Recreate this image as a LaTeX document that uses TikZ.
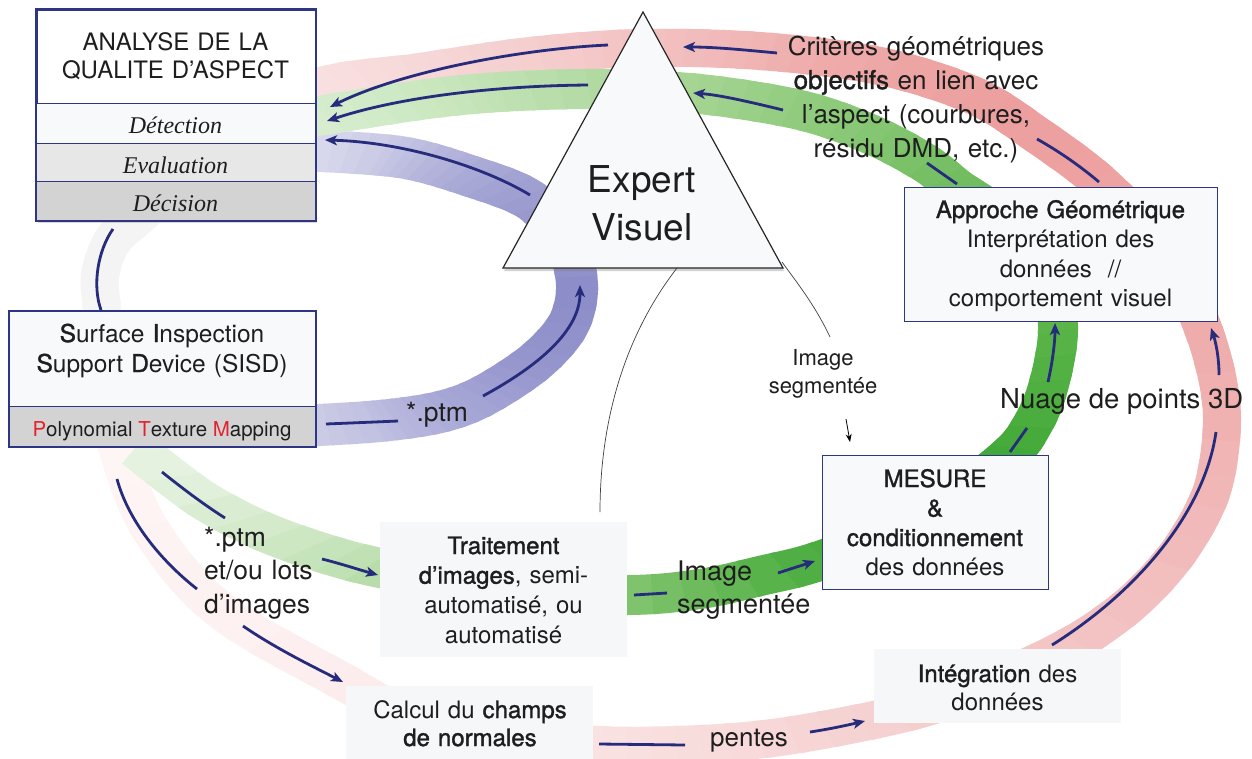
\documentclass[tikz,border=0pt]{standalone}
\usepackage{fontspec}
\setmainfont{TeX Gyre Heros}[BoldFont=TeX Gyre Heros, BoldFeatures={FakeBold=1.4}]
\newfontfamily\tms{Liberation Serif}
\usetikzlibrary{arrows.meta,shadows}

\definecolor{navy}{HTML}{262B7C}
\definecolor{boxline}{HTML}{2E3585}
\definecolor{pale}{HTML}{F8F9FB}
\definecolor{flatfill}{HTML}{F6F7F9}
\definecolor{lgray}{HTML}{E7E7E8}
\definecolor{mgray}{HTML}{D4D3D4}
\definecolor{txt}{HTML}{1E1E1E}
\definecolor{ptmred}{HTML}{E3232B}
% red loop stops
\definecolor{rA}{HTML}{FEF6F6}
\definecolor{rB}{HTML}{FDF1F1}
\definecolor{rC}{HTML}{FCEBEB}
\definecolor{rD}{HTML}{FAE3E3}
\definecolor{rE}{HTML}{F8DBDB}
\definecolor{rF}{HTML}{F5CDCD}
\definecolor{rG}{HTML}{F2BFBF}
\definecolor{rH}{HTML}{EFB1B0}
\definecolor{rI}{HTML}{EDA4A3}
\definecolor{rJ}{HTML}{EC9F9E}
\definecolor{rK}{HTML}{EEAAA9}
\definecolor{rL}{HTML}{F1BBBB}
\definecolor{rM}{HTML}{F4C9C9}
\definecolor{rN}{HTML}{F6D5D5}
\definecolor{rO}{HTML}{F9E1E1}
\definecolor{rP}{HTML}{F7EDED}
\definecolor{rQ}{HTML}{F4F4F4}
\definecolor{rR}{HTML}{F5F5F5}
% green stops
\definecolor{gA}{HTML}{E8F4E4}
\definecolor{gB}{HTML}{E4F2DF}
\definecolor{gC}{HTML}{BCDFAF}
\definecolor{gD}{HTML}{84C571}
\definecolor{gE}{HTML}{4BAD3F}
\definecolor{gF}{HTML}{3FA836}
\definecolor{gG}{HTML}{5AB449}
\definecolor{gH}{HTML}{70BC5D}
\definecolor{gI}{HTML}{8BC978}
\definecolor{gJ}{HTML}{A4D491}
\definecolor{gK}{HTML}{BBDFAE}
\definecolor{gL}{HTML}{CAE7BF}
\definecolor{gM}{HTML}{DCEFD5}
% blue stops
\definecolor{bA}{HTML}{D2D2EA}
\definecolor{bB}{HTML}{C0C0E1}
\definecolor{bC}{HTML}{ABABD8}
\definecolor{bD}{HTML}{9898CF}
\definecolor{bE}{HTML}{8C8CC8}
\definecolor{bF}{HTML}{9A9ACF}
\definecolor{bG}{HTML}{B0B0D9}
\definecolor{bH}{HTML}{CACAE6}
\definecolor{bI}{HTML}{E2E2F1}

\newcommand\gradband[5]{%
  \foreach \angA/\angB/\colA/\colB in {#5}{%
    \foreach \k in {0,...,5}{%
      \pgfmathsetmacro\wta{\angA+(\angB-\angA)*\k/6-0.6}%
      \pgfmathsetmacro\wtb{\angA+(\angB-\angA)*(\k+1)/6+0.6}%
      \pgfmathsetmacro\wtm{(\wta+\wtb)/2}%
      \pgfmathsetmacro\wxa{#1+3000*cos(\wta)}%
      \pgfmathsetmacro\wya{#2-3000*sin(\wta)}%
      \pgfmathsetmacro\wxb{#1+3000*cos(\wtb)}%
      \pgfmathsetmacro\wyb{#2-3000*sin(\wtb)}%
      \pgfmathsetmacro\wxm{#1+3000*cos(\wtm)}%
      \pgfmathsetmacro\wym{#2-3000*sin(\wtm)}%
      \pgfmathtruncatemacro\wpc{(\k+0.5)*100/6}%
      \begin{scope}
        \clip (#1,#2) -- (\wxa,\wya) -- (\wxm,\wym) -- (\wxb,\wyb) -- cycle;
        \draw[line width=#3, draw=\colB!\wpc!\colA] #4;
      \end{scope}
    }%
  }%
}

\def\redpath{plot[smooth cycle, tension=0.55] coordinates {(315,88) (420,72) (530,56) (640,48) (760,51) (880,66) (975,96) (1040,137) (1100,182) (1150,235) (1190,298) (1213,360) (1222,420) (1212,490) (1180,550) (1135,600) (1080,640) (1010,675) (940,703) (874,720) (780,737) (700,744) (600,745) (480,733) (400,712) (340,680) (243,626) (190,582) (145,520) (118,450) (105,380) (102,311) (100,275) (113,240) (140,215) (220,140)}}
\def\greenpath{plot[smooth, tension=0.55] coordinates {(135,448) (200,498) (260,530) (320,552) (380,568) (500,590) (627,595) (700,589) (760,576) (822,560) (920,520) (1006,458) (1035,420) (1050,380) (1058,330) (1050,280) (1010,225) (960,190) (925,163) (870,134) (800,110) (700,94) (600,89) (500,92) (420,100) (300,119)}}
\def\bluepath{plot[smooth, tension=0.55] coordinates {(300,150) (400,157) (470,176) (530,200) (565,240) (577,285) (568,325) (535,362) (483,396) (440,412) (380,421) (300,426)}}

\tikzset{
  box/.style={rectangle, inner sep=0pt, anchor=north west, draw=boxline, line width=1.1pt},
  flat/.style={rectangle, inner sep=0pt, anchor=north west, fill=flatfill},
  lbl/.style={inner sep=0pt, text=txt, anchor=base, align=center},
  seg/.style={draw=navy, line width=2.8pt},
  arr/.style={draw=navy, line width=2.8pt, -{Stealth[length=12pt,width=10pt,inset=3pt]}},
  fine/.style={draw=black!75, line width=0.7pt},
}

\begin{document}
\begin{tikzpicture}[x=1pt,y=-1pt]
\useasboundingbox (0,0) rectangle (1252,758);
\fill[white] (0,0) rectangle (1252,758);

% ---------- bands ----------
\gradband{640}{400}{38pt}{\redpath}{-180/-150/rA/rB,-150/-130/rB/rC,-130/-100/rC/rD,-100/-75/rD/rE,-75/-45/rE/rF,-45/-20/rF/rG,-20/0/rG/rH,0/20/rH/rI,20/40/rI/rJ,40/60/rJ/rK,60/80/rK/rL,80/100/rL/rM,100/120/rM/rN,120/137/rN/rO,137/150/rO/rP,150/160/rP/rQ,160/180/rQ/rR}
\gradband{300}{290}{42pt}{\bluepath}{-96/-60/bA/bB,-60/-40/bB/bC,-40/-20/bC/bD,-20/0/bD/bE,0/20/bE/bF,20/40/bF/bG,40/60/bG/bH,60/96/bH/bI}
\gradband{640}{400}{40pt}{\greenpath}{-180/-170/gA/gB,-170/-148/gB/gC,-148/-95/gC/gD,-95/-40/gD/gE,-40/-10/gE/gF,-10/10/gF/gG,10/33/gG/gH,33/55/gH/gI,55/80/gI/gJ,80/110/gJ/gK,110/125/gK/gL,125/145/gL/gM}

% ---------- triangle ----------
\coordinate (apex) at (643,12);
\coordinate (tbr) at (783,268);
\coordinate (tbl) at (503,268);
\filldraw[fill=pale, draw=black!85, line width=1.2pt, line join=miter,
  drop shadow={shadow xshift=1pt, shadow yshift=-3pt, opacity=0.35}]
  (apex) -- (tbr) -- (tbl) -- cycle;

% ---------- boxes ----------
\node[box, fill=white, line width=1.6pt, minimum width=279pt, minimum height=211pt,
  drop shadow={shadow xshift=1.5pt, shadow yshift=-2.5pt, opacity=0.3}] (anaBox) at (36,9) {};
\node[box, fill=pale, minimum width=279pt, minimum height=40pt] (detB) at (36,103) {};
\node[box, fill=lgray, minimum width=279pt, minimum height=38pt] (evaB) at (36,143) {};
\node[box, fill=mgray, minimum width=279pt, minimum height=39pt] (decB) at (36,181) {};
\draw[boxline, line width=1.6pt] (anaBox.north west) rectangle (anaBox.south east);

\node[box, fill=pale, minimum width=306pt, minimum height=135pt] (sisdB) at (9,311) {};
\node[box, fill=mgray, minimum width=306pt, minimum height=40pt] (ptmB) at (9,406) {};
\draw[boxline, line width=1.4pt] (sisdB.north west) rectangle (sisdB.south east);

\node[box, fill=pale, minimum width=313pt, minimum height=134pt] (appB) at (904,187) {};
\node[box, fill=pale, minimum width=226pt, minimum height=134pt] (mesB) at (822,455) {};
\node[flat, minimum width=247pt, minimum height=135pt] (traB) at (380,522) {};
\node[flat, minimum width=247pt, minimum height=80pt] (calB) at (346,686) {};
\node[flat, minimum width=247pt, minimum height=74pt] (intB) at (874,649) {};

% ---------- navy arrows ----------
\coordinate (a1s) at (777,53);   \coordinate (a1e) at (683,47);
\coordinate (a2s) at (608,45);   \coordinate (a2e) at (330,107);
\coordinate (a3s) at (783,110);  \coordinate (a3e) at (693,93);
\coordinate (a4s) at (588,85);   \coordinate (a4e) at (327,121);
\coordinate (a5s) at (530,195);  \coordinate (a5e) at (325,140);
\coordinate (a6s) at (326,424);  \coordinate (a6m) at (398,421);
\coordinate (a6t) at (483,396);  \coordinate (a6e) at (580,285);
\coordinate (a7s) at (1037,139); \coordinate (a7e) at (1099,182);
\coordinate (a8s) at (927,163);  \coordinate (a8e) at (957,184);
\coordinate (a9s) at (1010,452); \coordinate (a9m) at (1027,428);
\coordinate (a9t) at (1048,382); \coordinate (a9e) at (1055,323);
\coordinate (b1s) at (1052,645); \coordinate (b1m) at (1216,432);
\coordinate (b1t) at (1219,375); \coordinate (b1e) at (1211,328);
\coordinate (b2s) at (599,744);  \coordinate (b2m) at (685,745);
\coordinate (b2t) at (810,732);  \coordinate (b2e) at (865,721);
\coordinate (b3s) at (634,595);  \coordinate (b3m) at (667,593);
\coordinate (b3t) at (778,573);  \coordinate (b3e) at (815,561);
\coordinate (b4s) at (162,472);  \coordinate (b4m) at (225,518);
\coordinate (b4t) at (322,559);  \coordinate (b4e) at (378,575);
\coordinate (b5s) at (117,479);  \coordinate (b5m) at (197,589);
\coordinate (b5t) at (243,626);  \coordinate (b5e) at (343,682);
\coordinate (b6s) at (113,229);  \coordinate (b6e) at (101,310);

\draw[arr] (a1s) .. controls (745,50) and (715,47) .. (a1e);
\draw[arr] (a2s) .. controls (520,49) and (400,72) .. (a2e);
\draw[arr] (a3s) .. controls (750,102) and (720,95) .. (a3e);
\draw[arr] (a4s) .. controls (480,86) and (390,100) .. (a4e);
\draw[arr] (a5s) .. controls (480,165) and (400,142) .. (a5e);
\draw[seg] (a6s) .. controls (350,423) and (375,422) .. (a6m);
\draw[arr] (a6t) .. controls (540,365) and (580,330) .. (a6e);
\draw[seg] (a7s) .. controls (1060,152) and (1080,166) .. (a7e);
\draw[seg] (a8s) -- (a8e);
\draw[seg] (a9s) -- (a9m);
\draw[arr] (a9t) .. controls (1053,360) and (1055,340) .. (a9e);
\draw[seg] (b1s) .. controls (1140,590) and (1205,510) .. (b1m);
\draw[arr] (b1t) .. controls (1219,355) and (1215,340) .. (b1e);
\draw[seg] (b2s) -- (b2m);
\draw[arr] (b2t) .. controls (830,729) and (848,725) .. (b2e);
\draw[seg] (b3s) -- (b3m);
\draw[arr] (b3t) .. controls (790,569) and (803,565) .. (b3e);
\draw[seg] (b4s) .. controls (182,488) and (203,504) .. (b4m);
\draw[arr] (b4t) .. controls (342,564) and (360,570) .. (b4e);
\draw[seg] (b5s) .. controls (128,520) and (160,560) .. (b5m);
\draw[arr] (b5t) .. controls (275,648) and (310,665) .. (b5e);
\draw[seg] (b6s) .. controls (98,250) and (92,285) .. (b6e);

% ---------- thin black lines ----------
\coordinate (t1s) at (677,268); \coordinate (t1e) at (600,512);
\coordinate (t2s) at (782,262); \coordinate (t2e) at (830,337);
\coordinate (t3s) at (846,419); \coordinate (t3e) at (850,442);
\draw[fine] (t1s) .. controls (625,335) and (600,420) .. (t1e);
\draw[fine] (t2s) .. controls (795,280) and (815,305) .. (t2e);
\draw[black, line width=0.8pt, -{Stealth[length=8pt,width=6pt]}] (t3s) -- (t3e);

% ---------- texts ----------
\node[lbl, text width=279pt, font=\fontsize{24}{28}\selectfont] (anaT) at (175.5,50) {ANALYSE DE LA\\QUALITE D’ASPECT};
\node[lbl, font=\tms\itshape\fontsize{24}{28}\selectfont] (detT) at (175.5,133) {Détection};
\node[lbl, font=\tms\itshape\fontsize{24}{28}\selectfont] (evaT) at (175.5,173) {Evaluation};
\node[lbl, font=\tms\itshape\fontsize{24}{28}\selectfont] (decT) at (175.5,211) {Décision};

\node[lbl, text width=306pt, font=\fontsize{24.5}{30}\selectfont] (sisdT) at (162,342) {\textbf{S}urface \textbf{I}nspection\\\textbf{S}upport \textbf{D}evice (SISD)};
\node[lbl, font=\fontsize{20.5}{24}\selectfont] (ptmT) at (162,436) {{\color{ptmred}P}olynomial {\color{ptmred}T}exture {\color{ptmred}M}apping};

\node[lbl, text width=200pt, font=\fontsize{37}{48}\selectfont] (expT) at (642,192) {Expert\\Visuel};

\node[lbl, text width=330pt, font=\fontsize{26}{34}\selectfont] (critT) at (916,55) {Critères géométriques\\\textbf{objectifs} en lien avec\\l’aspect (courbures,\\résidu DMD, etc.)};

\node[lbl, text width=313pt, font=\fontsize{24}{29.5}\selectfont] (appT) at (1060.5,218) {\textbf{Approche Géométrique}\\Interprétation des\\données\ \ //\\comportement visuel};
\node[lbl, text width=226pt, font=\fontsize{24}{29.5}\selectfont] (mesT) at (935,487) {\textbf{MESURE}\\\textbf{\&}\\\textbf{conditionnement}\\des données};
\node[lbl, text width=247pt, font=\fontsize{24}{29.7}\selectfont] (traT) at (503.5,554) {\textbf{Traitement}\\\textbf{d’images}, semi-\\automatisé, ou\\automatisé};
\node[lbl, text width=247pt, font=\fontsize{24}{28}\selectfont] (calT) at (470,718) {Calcul du \textbf{champs}\\\textbf{de normales}};
\node[lbl, text width=247pt, font=\fontsize{24}{28}\selectfont] (intT) at (997.5,682) {\textbf{Intégration} des\\données};

\node[lbl, anchor=base west, align=left, text width=160pt, font=\fontsize{27}{33}\selectfont] (imgT) at (677,580) {Image\\segmentée};
\node[lbl, anchor=base west, font=\fontsize{27.5}{32}\selectfont] (nuaT) at (1000,408) {Nuage de points 3D};
\node[lbl, font=\fontsize{26}{32}\selectfont] (penT) at (749,746) {pentes};
\node[lbl, anchor=base west, align=left, text width=160pt, font=\fontsize{26.5}{33.5}\selectfont] (ptmaT) at (204,546) {*.ptm\\et/ou lots\\d’images};
\node[lbl, anchor=base west, font=\fontsize{26.5}{32}\selectfont] (ptmbT) at (406,421) {*.ptm};
\node[lbl, text width=140pt, font=\fontsize{22}{28}\selectfont] (segT) at (823,365) {Image\\segmentée};
\end{tikzpicture}
\end{document}
